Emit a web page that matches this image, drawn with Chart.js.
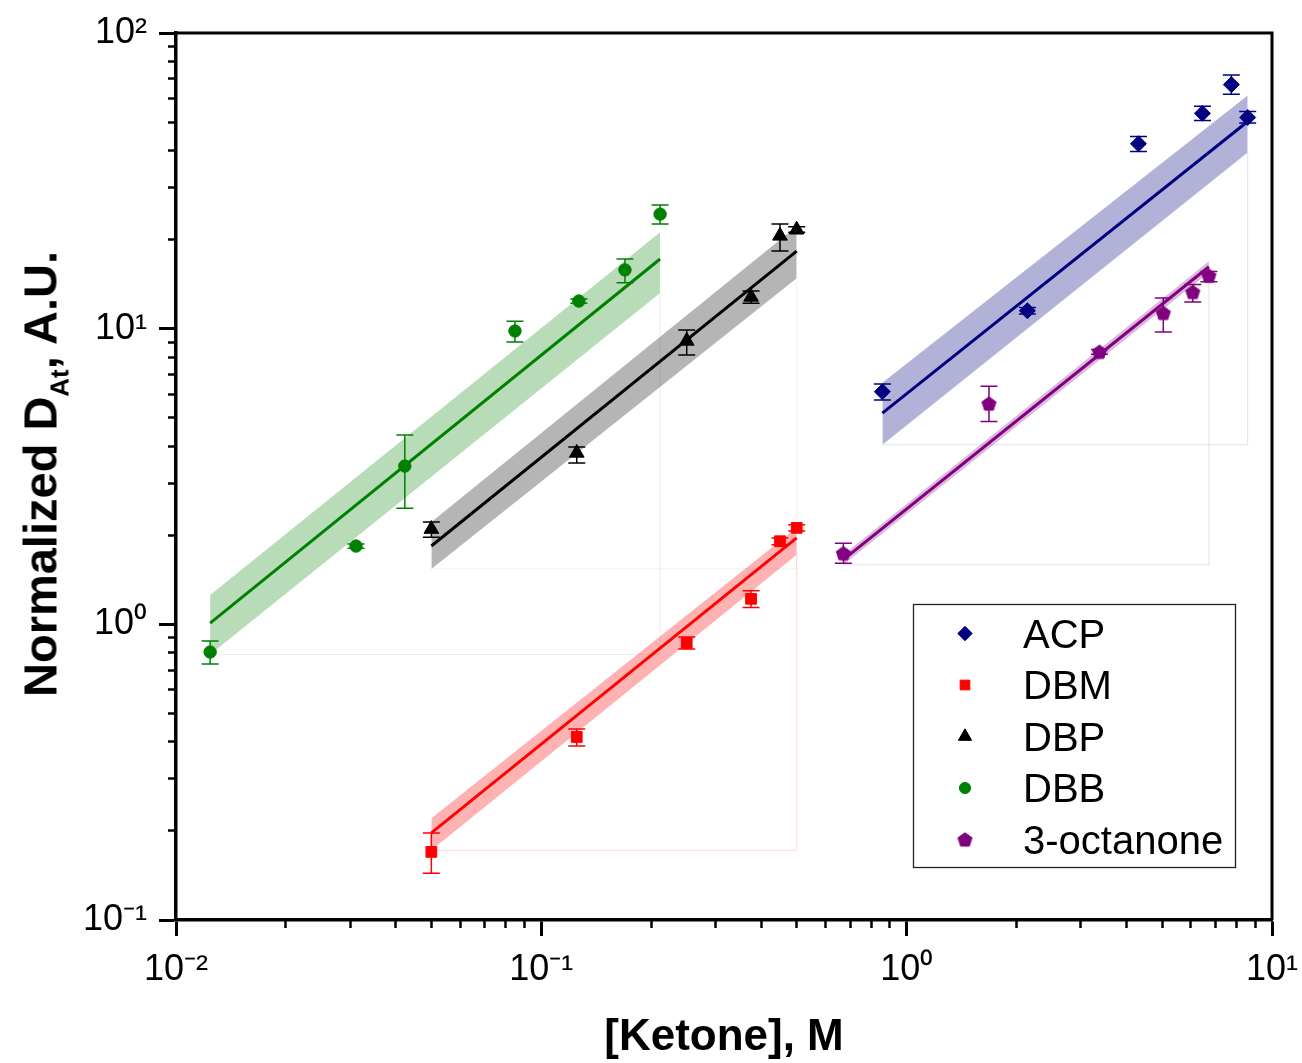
<!DOCTYPE html>
<html>
<head>
<meta charset="utf-8">
<script src="https://cdn.jsdelivr.net/npm/chart.js@4.4.1/dist/chart.umd.min.js"></script>
<style>
  html, body { margin: 0; padding: 0; background: #fff; }
  #wrap { position: relative; width: 1302px; height: 1063px; }
  #c { position: absolute; left: 0; top: 0; }
  #ytitle {
    position: absolute; left: 40px; top: 474px;
    transform: translate(-50%, -50%) rotate(-90deg);
    font-family: 'Liberation Sans', Arial, Helvetica, sans-serif;
    font-weight: bold; font-size: 47px; line-height: 1;
    white-space: nowrap; color: #000;
  }
  #ytitle sub { font-size: 0.55em; vertical-align: baseline; position: relative; top: 0.45em; }
</style>
</head>
<body>
<div id="wrap">
  <canvas id="c" width="1302" height="1063"></canvas>
  <div id="ytitle">Normalized D<sub>At</sub>, A.U.</div>
</div>
<script>
const FONT = "'Liberation Sans', Arial, Helvetica, sans-serif";

// ---------- axis ticks ----------
const xDecades = [0.01, 0.1, 1, 10];
const xTickLabels = ['10\u207B\u00B2', '10\u207B\u00B9', '10\u2070', '10\u00B9'];
const yDecades = [0.1, 1, 10, 100];
const yTickLabels = ['10\u207B\u00B9', '10\u2070', '10\u00B9', '10\u00B2'];
const minorMultipliers = [2, 3, 4, 5, 6, 7, 8, 9];

// ---------- ACP ----------
const acpX      = [0.858, 2.14, 4.31, 6.45, 7.74, 8.58];
const acpY      = [6.12, 11.5, 42.2, 53.5, 66.9, 51.8];
const acpErrHi  = [6.50, 11.8, 44.7, 56.5, 72.1, 54.3];
const acpErrLo  = [5.74, 11.2, 39.7, 50.6, 62.1, 49.6];
const acpFitX   = [0.858, 8.58];
const acpFitY   = [5.18, 50.2];
const acpBandHi = [6.56, 61.5];
const acpBandLo = [4.05, 39.4];

// ---------- DBM ----------
const dbmX      = [0.05, 0.125, 0.25, 0.375, 0.45, 0.5];
const dbmY      = [0.170, 0.416, 0.865, 1.22, 1.91, 2.12];
const dbmErrHi  = [0.197, 0.443, 0.906, 1.30, 1.96, 2.17];
const dbmErrLo  = [0.144, 0.388, 0.825, 1.14, 1.86, 2.07];
const dbmFitX   = [0.05, 0.5];
const dbmFitY   = [0.197, 1.96];
const dbmBandHi = [0.221, 2.12];
const dbmBandLo = [0.172, 1.72];

// ---------- DBP ----------
const dbpX      = [0.05, 0.125, 0.25, 0.375, 0.45, 0.5];
const dbpY      = [2.10, 3.80, 9.09, 12.8, 20.6, 21.6];
const dbpErrHi  = [2.22, 3.98, 9.90, 13.4, 22.6, 22.1];
const dbpErrLo  = [1.97, 3.51, 8.15, 12.2, 18.3, 21.2];
const dbpFitX   = [0.05, 0.5];
const dbpFitY   = [1.84, 18.3];
const dbpBandHi = [2.22, 22.2];
const dbpBandLo = [1.54, 14.8];

// ---------- DBB ----------
const dbbX      = [0.0124, 0.0311, 0.0423, 0.0847, 0.1267, 0.1694, 0.2114];
const dbbY      = [0.806, 1.84, 3.43, 9.82, 12.4, 15.8, 24.4];
const dbbErrHi  = [0.878, 1.87, 4.37, 10.6, 12.6, 17.2, 26.2];
const dbbErrLo  = [0.734, 1.81, 2.47, 9.01, 12.2, 14.3, 22.6];
const dbbFitX   = [0.0124, 0.2114];
const dbbFitY   = [1.01, 17.2];
const dbbBandHi = [1.256, 21.2];
const dbbBandLo = [0.79, 13.2];

// ---------- 3-octanone ----------
const octX      = [0.671, 1.68, 3.37, 5.04, 6.07, 6.72];
const octY      = [1.74, 5.58, 8.35, 11.3, 13.3, 15.1];
const octErrHi  = [1.88, 6.38, 8.50, 12.7, 14.1, 15.6];
const octErrLo  = [1.61, 4.85, 8.20, 9.75, 12.3, 14.4];
const octFitX   = [0.671, 6.72];
const octFitY   = [1.655, 16.2];
const octBandHi = [1.72, 16.9];
const octBandLo = [1.59, 15.5];

// ---------- pentagon marker ----------
function makePentagon(color, R) {
  const c = document.createElement('canvas');
  const s = Math.ceil(R * 2 + 4);
  c.width = s; c.height = s;
  const g = c.getContext('2d');
  g.fillStyle = color; g.strokeStyle = color; g.lineWidth = 1;
  g.beginPath();
  for (let k = 0; k < 5; k++) {
    const a = -Math.PI / 2 + k * 2 * Math.PI / 5;
    const px = s / 2 + R * Math.cos(a), py = s / 2 + 0.6 + R * Math.sin(a);
    if (k === 0) g.moveTo(px, py); else g.lineTo(px, py);
  }
  g.closePath(); g.fill(); g.stroke();
  return c;
}

const series = [
  { label: 'ACP', color: '#000080', band: 'rgba(0,0,128,0.30)', line: 'rgba(0,0,128,0.12)',
    style: 'rectRot', radius: 8, x: acpX, y: acpY, hi: acpErrHi, lo: acpErrLo,
    fitX: acpFitX, fitY: acpFitY, bandHi: acpBandHi, bandLo: acpBandLo },
  { label: 'DBM', color: '#ff0000', band: 'rgba(255,0,0,0.30)', line: 'rgba(255,0,0,0.15)',
    style: 'rect', radius: 7.6, x: dbmX, y: dbmY, hi: dbmErrHi, lo: dbmErrLo,
    fitX: dbmFitX, fitY: dbmFitY, bandHi: dbmBandHi, bandLo: dbmBandLo },
  { label: 'DBP', color: '#000000', band: 'rgba(0,0,0,0.29)', line: 'rgba(0,0,0,0.06)',
    style: 'triangle', radius: 8.5, x: dbpX, y: dbpY, hi: dbpErrHi, lo: dbpErrLo,
    fitX: dbpFitX, fitY: dbpFitY, bandHi: dbpBandHi, bandLo: dbpBandLo },
  { label: 'DBB', color: '#008000', band: 'rgba(0,128,0,0.28)', line: 'rgba(0,128,0,0.10)',
    style: 'circle', radius: 6.2, x: dbbX, y: dbbY, hi: dbbErrHi, lo: dbbErrLo,
    fitX: dbbFitX, fitY: dbbFitY, bandHi: dbbBandHi, bandLo: dbbBandLo },
  { label: '3-octanone', color: '#800080', band: 'rgba(128,0,128,0.28)', line: 'rgba(128,0,128,0.15)',
    style: makePentagon('#800080', 7.4), radius: 7.5, x: octX, y: octY, hi: octErrHi, lo: octErrLo,
    fitX: octFitX, fitY: octFitY, bandHi: octBandHi, bandLo: octBandLo }
];

const pts = (xs, ys) => xs.map((v, i) => ({ x: v, y: ys[i] }));

const datasets = [];
series.forEach(s => {
  // faint outline of the fill region (baseline + right edge)
  datasets.push({
    type: 'line', order: 3, data: [
      { x: s.fitX[0], y: s.bandLo[0] }, { x: s.fitX[1], y: s.bandLo[0] }, { x: s.fitX[1], y: s.bandLo[1] }
    ],
    borderColor: s.line, borderWidth: 1, pointRadius: 0, fill: false, tension: 0
  });
  // confidence band
  datasets.push({
    type: 'line', order: 2, data: pts(s.fitX, s.bandHi),
    borderWidth: 0, borderColor: 'rgba(0,0,0,0)', pointRadius: 0, fill: false, tension: 0
  });
  datasets.push({
    type: 'line', order: 2, data: pts(s.fitX, s.bandLo),
    borderWidth: 0, borderColor: 'rgba(0,0,0,0)', pointRadius: 0, fill: '-1', backgroundColor: s.band, tension: 0
  });
  // fit line
  datasets.push({
    type: 'line', order: 1, data: pts(s.fitX, s.fitY),
    borderColor: s.color, borderWidth: 3, pointRadius: 0, fill: false, tension: 0
  });
  // markers
  s.markerIndex = datasets.length;
  datasets.push({
    type: 'scatter', order: 0, label: s.label, data: pts(s.x, s.y),
    errHi: s.hi, errLo: s.lo,
    pointStyle: s.style, pointRadius: s.radius, pointBorderWidth: 1,
    backgroundColor: s.color, borderColor: s.color, showLine: false
  });
});

// ---------- plugins ----------
const errorBarPlugin = {
  id: 'errorBars',
  beforeDatasetDraw(chart, args) {
    const ds = chart.data.datasets[args.index];
    if (!ds.errHi) return;
    const xs = chart.scales.x, ys = chart.scales.y, ctx = chart.ctx;
    const cap = 8.5;
    ctx.save();
    ctx.strokeStyle = ds.borderColor;
    ctx.lineWidth = 1.5;
    ds.data.forEach((p, i) => {
      const px = xs.getPixelForValue(p.x);
      const yh = ys.getPixelForValue(ds.errHi[i]);
      const yl = ys.getPixelForValue(ds.errLo[i]);
      ctx.beginPath();
      ctx.moveTo(px, yh); ctx.lineTo(px, yl);
      ctx.moveTo(px - cap, yh); ctx.lineTo(px + cap, yh);
      ctx.moveTo(px - cap, yl); ctx.lineTo(px + cap, yl);
      ctx.stroke();
    });
    ctx.restore();
  }
};

const framePlugin = {
  id: 'frame',
  afterDatasetsDraw(chart) {
    const { ctx, chartArea: a } = chart;
    ctx.save();
    ctx.strokeStyle = '#000';
    ctx.lineWidth = 3;
    ctx.beginPath();
    ctx.moveTo(a.left, a.top);
    ctx.lineTo(a.right, a.top);
    ctx.lineTo(a.right, a.bottom);
    ctx.stroke();
    ctx.restore();
  }
};

function drawMarker(ctx, opts, x, y) {
  if (window.Chart && Chart.helpers && Chart.helpers.drawPoint) {
    Chart.helpers.drawPoint(ctx, opts, x, y);
    return;
  }
  const r = opts.radius, st = opts.pointStyle;
  ctx.beginPath();
  if (st instanceof HTMLCanvasElement) { ctx.drawImage(st, x - st.width / 2, y - st.height / 2); return; }
  if (st === 'circle') ctx.arc(x, y, r, 0, Math.PI * 2);
  else if (st === 'rect') { const h = r * Math.SQRT1_2; ctx.rect(x - h, y - h, 2 * h, 2 * h); }
  else if (st === 'rectRot') { ctx.moveTo(x, y - r); ctx.lineTo(x + r, y); ctx.lineTo(x, y + r); ctx.lineTo(x - r, y); ctx.closePath(); }
  else if (st === 'triangle') { ctx.moveTo(x, y - r); ctx.lineTo(x + r * 0.866, y + r / 2); ctx.lineTo(x - r * 0.866, y + r / 2); ctx.closePath(); }
  ctx.fill(); ctx.stroke();
}

const legendBox = { left: 913, top: 604, width: 322, height: 263, markerX: 52, textX: 110, firstRowY: 29.5, rowStep: 51.5 };

const legendPlugin = {
  id: 'customLegend',
  afterDraw(chart) {
    const ctx = chart.ctx, b = legendBox;
    ctx.save();
    ctx.fillStyle = '#fff';
    ctx.fillRect(b.left, b.top, b.width, b.height);
    ctx.lineWidth = 1.3;
    ctx.strokeStyle = '#222';
    ctx.strokeRect(b.left + 0.5, b.top + 0.5, b.width, b.height);
    ctx.font = '40px ' + FONT;
    ctx.textAlign = 'left';
    ctx.textBaseline = 'alphabetic';
    series.forEach((s, i) => {
      const cy = b.top + b.firstRowY + i * b.rowStep;
      const ds = chart.data.datasets[s.markerIndex];
      ctx.fillStyle = s.color; ctx.strokeStyle = s.color; ctx.lineWidth = 1;
      drawMarker(ctx, { pointStyle: ds.pointStyle, radius: ds.pointRadius * 0.9, rotation: 0, borderWidth: 1 }, b.left + b.markerX, cy);
      ctx.fillStyle = '#000';
      ctx.fillText(s.label, b.left + b.textX, cy + 14.3);
    });
    ctx.restore();
  }
};

function minorTicks(decades) {
  const out = [];
  for (let i = 0; i < decades.length - 1; i++)
    for (const m of minorMultipliers) out.push({ value: decades[i] * m });
  return out;
}

new Chart(document.getElementById('c'), {
  type: 'scatter',
  data: { datasets },
  options: {
    responsive: false,
    animation: false,
    devicePixelRatio: 1,
    events: [],
    layout: { padding: { top: 33, right: 30, left: 0, bottom: 0 } },
    plugins: { legend: { display: false }, tooltip: { enabled: false } },
    scales: {
      x: {
        type: 'logarithmic', position: 'bottom', min: xDecades[0], max: xDecades[xDecades.length - 1],
        afterBuildTicks: s => { s.ticks = xDecades.map(v => ({ value: v, major: true })); },
        afterFit: s => { s.height = 143; s.paddingLeft = 0; s.paddingRight = 0; },
        ticks: {
          autoSkip: false, maxRotation: 0, minRotation: 0, padding: 12, color: '#000',
          font: { family: FONT, size: 36 },
          callback: (v, i) => xTickLabels[i]
        },
        grid: { drawOnChartArea: false, drawTicks: true, tickLength: 16, tickWidth: 3, tickColor: '#000' },
        border: { display: true, color: '#000', width: 3.5 },
        title: { display: true, text: '[Ketone], M', color: '#000', font: { family: FONT, size: 44, weight: 'bold' }, padding: { top: 0, bottom: -1 } }
      },
      y: {
        type: 'logarithmic', position: 'left', min: yDecades[0], max: yDecades[yDecades.length - 1],
        afterBuildTicks: s => { s.ticks = yDecades.map(v => ({ value: v, major: true })); },
        afterFit: s => { s.width = 176; s.paddingTop = 0; s.paddingBottom = 0; },
        ticks: {
          autoSkip: false, padding: 12, color: '#000',
          font: { family: FONT, size: 36 },
          callback: (v, i) => yTickLabels[i]
        },
        grid: { drawOnChartArea: false, drawTicks: true, tickLength: 17, tickWidth: 3, tickColor: '#000' },
        border: { display: true, color: '#000', width: 3.5 }
      },
      x2: {
        type: 'logarithmic', axis: 'x', position: { y: yDecades[0] }, min: xDecades[0], max: xDecades[xDecades.length - 1],
        afterBuildTicks: s => { s.ticks = minorTicks(xDecades); },
        afterFit: s => { s.paddingLeft = 0; s.paddingRight = 0; },
        ticks: { display: false },
        grid: { drawOnChartArea: false, drawTicks: true, tickLength: 8, tickWidth: 2.5, tickColor: '#000' },
        border: { display: false }
      },
      y2: {
        type: 'logarithmic', axis: 'y', position: { x: xDecades[0] }, min: yDecades[0], max: yDecades[yDecades.length - 1],
        afterBuildTicks: s => { s.ticks = minorTicks(yDecades); },
        afterFit: s => { s.paddingTop = 0; s.paddingBottom = 0; },
        ticks: { display: false },
        grid: { drawOnChartArea: false, drawTicks: true, tickLength: 8, tickWidth: 2.5, tickColor: '#000' },
        border: { display: false }
      }
    }
  },
  plugins: [errorBarPlugin, framePlugin, legendPlugin]
});
</script>
</body>
</html>
